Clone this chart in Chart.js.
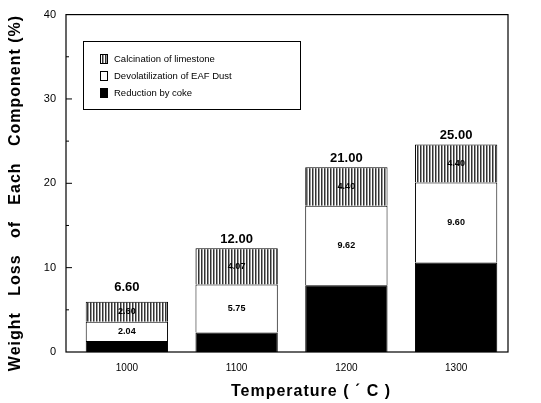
<!DOCTYPE html>
<html>
<head>
<meta charset="utf-8">
<script src="https://cdn.jsdelivr.net/npm/chart.js@4.4.0/dist/chart.umd.min.js"></script>
<style>
  body { margin: 0; background: #fff; }
  #wrap { width: 541px; height: 403px; position: relative; }
</style>
</head>
<body>
<div id="wrap"><canvas id="chart"></canvas></div>
<script>
// categories and series
const temperatures = ['1000', '1100', '1200', '1300'];
const reductionByCoke = [1.3, 2.3, 7.9, 10.6];
const devolatilization = [2.3, 5.7, 9.45, 9.5];
const calcination = [2.35, 4.3, 4.55, 4.5];
const devolLabels = ['2.04', '5.75', '9.62', '9.60'];
const calcLabels = ['2.60', '4.07', '4.40', '4.40'];
const totalLabels = ['6.60', '12.00', '21.00', '25.00'];
const yTicks = [0, 10, 20, 30, 40];

const FONT = '"Liberation Sans", Arial, sans-serif';
const Y_TITLE = 'Weight   Loss   of   Each   Component (%)';
const X_TITLE = 'Temperature ( \u02CA C )';

// striped fill for the calcination part
function makeStripes() {
    const c = document.createElement('canvas');
    c.width = 3; c.height = 4;
    const g = c.getContext('2d');
    g.fillStyle = '#ffffff'; g.fillRect(0, 0, 3, 4);
    g.fillStyle = '#333333'; g.fillRect(0, 0, 1, 4);
    g.fillStyle = '#999999'; g.fillRect(1, 0, 1, 4);
    return g.createPattern(c, 'repeat');
}
const stripes = makeStripes();

// frame, minor ticks, titles, value labels and legend
const decorations = {
    id: 'decorations',
    afterDatasetsDraw(chart) {
        const ctx = chart.ctx;
        const a = chart.chartArea;
        const y = chart.scales.y;
        const frameL = a.left - 6, frameR = a.right - 3;
        ctx.save();
        ctx.strokeStyle = '#000';
        ctx.lineWidth = 1.2;
        ctx.strokeRect(frameL, a.top, frameR - frameL, a.bottom - a.top);
        // inward ticks
        ctx.lineWidth = 1;
        for (let v = 5; v < 40; v += 5) {
            const py = y.getPixelForValue(v);
            ctx.beginPath();
            ctx.moveTo(frameL, py);
            ctx.lineTo(frameL + (v % 10 === 0 ? 6 : 3), py);
            ctx.stroke();
        }

        // segment labels
        ctx.textAlign = 'center';
        ctx.textBaseline = 'middle';
        ctx.fillStyle = '#000';
        const devMeta = chart.getDatasetMeta(1);
        const calMeta = chart.getDatasetMeta(2);
        ctx.font = 'bold 9px ' + FONT;
        devMeta.data.forEach((bar, i) => {
            ctx.fillText(devolLabels[i], bar.x, (bar.y + bar.base) / 2);
        });
        calMeta.data.forEach((bar, i) => {
            ctx.font = 'bold 9px ' + FONT;
            ctx.fillText(calcLabels[i], bar.x, (bar.y + bar.base) / 2);
            ctx.font = 'bold 13px ' + FONT;
            ctx.fillText(totalLabels[i], bar.x, bar.y - (i === 0 ? 14 : 9));
        });

        // axis titles
        ctx.font = 'bold 16px ' + FONT;
        ctx.letterSpacing = '1px';
        ctx.fillText(X_TITLE, 311, 392);
        ctx.save();
        ctx.translate(16, 193);
        ctx.rotate(-Math.PI / 2);
        ctx.fillText(Y_TITLE, 0, 0);
        ctx.restore();
        ctx.letterSpacing = '0px';

        // legend box
        const lx = 83, ly = 41, lw = 217, lh = 68;
        ctx.fillStyle = '#fff';
        ctx.fillRect(lx, ly, lw, lh);
        ctx.strokeStyle = '#000';
        ctx.lineWidth = 1;
        ctx.strokeRect(lx + 0.5, ly + 0.5, lw, lh);
        const items = [2, 1, 0];
        ctx.textAlign = 'left';
        ctx.font = '9.5px ' + FONT;
        items.forEach((di, k) => {
            const ds = chart.data.datasets[di];
            const cy = ly + 18 + k * 17;
            ctx.fillStyle = ds.backgroundColor;
            ctx.fillRect(100, cy - 5, 8, 10);
            ctx.strokeStyle = '#000';
            ctx.strokeRect(100.5, cy - 4.5, 7, 9);
            ctx.fillStyle = '#000';
            ctx.fillText(ds.label, 114, cy);
        });
        ctx.restore();
    }
};

new Chart(document.getElementById('chart'), {
    type: 'bar',
    data: {
        labels: temperatures,
        datasets: [
            { label: 'Reduction by coke', data: reductionByCoke, backgroundColor: '#000000',
              borderColor: '#000', borderWidth: 1 },
            { label: 'Devolatilization of EAF Dust', data: devolatilization, backgroundColor: '#ffffff',
              borderColor: '#000', borderWidth: 1 },
            { label: 'Calcination of limestone', data: calcination, backgroundColor: stripes,
              borderColor: '#000', borderWidth: 1 }
        ]
    },
    options: {
        responsive: true,
        maintainAspectRatio: false,
        animation: false,
        layout: { padding: { top: 5, right: 30, left: 0, bottom: 0 } },
        plugins: {
            legend: { display: false },
            tooltip: { enabled: false }
        },
        datasets: { bar: { categoryPercentage: 0.75, barPercentage: 1.0 } },
        scales: {
            x: {
                stacked: true,
                grid: { display: false },
                border: { display: false },
                ticks: { color: '#000', font: { family: FONT, size: 10 }, padding: 2 },
                afterFit(scale) { scale.height = 51; }
            },
            y: {
                stacked: true,
                min: 0,
                max: 40,
                grid: { display: false },
                border: { display: false },
                afterBuildTicks(scale) { scale.ticks = yTicks.map(v => ({ value: v })); },
                ticks: { color: '#000', font: { family: FONT, size: 11 }, padding: 8 },
                afterFit(scale) { scale.width = 72; }
            }
        }
    },
    plugins: [decorations]
});
</script>
</body>
</html>
